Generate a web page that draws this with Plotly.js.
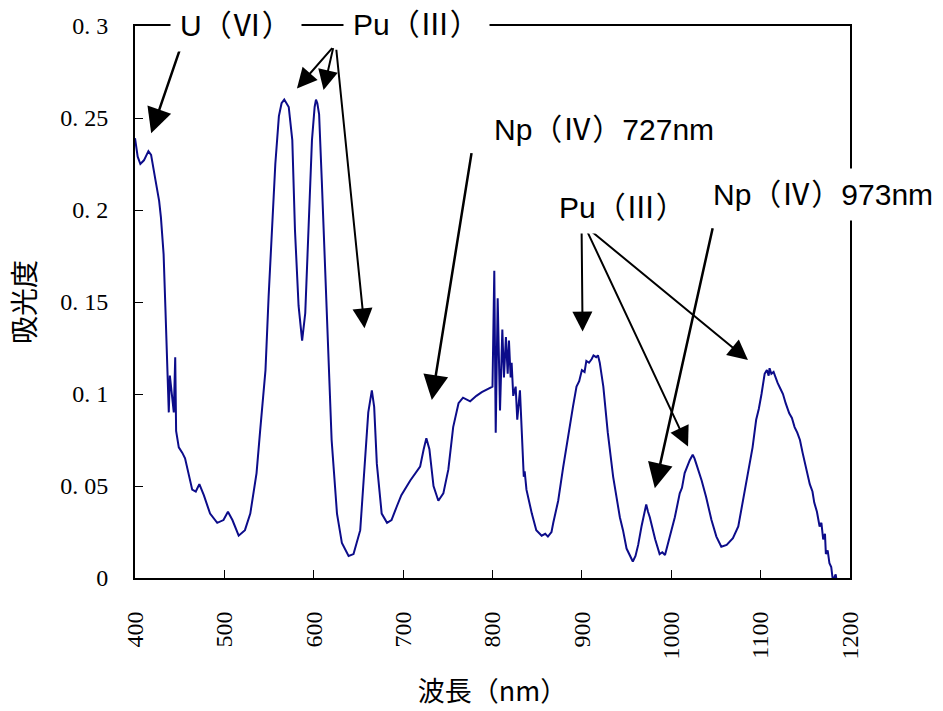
<!DOCTYPE html>
<html>
<head>
<meta charset="utf-8">
<script src="https://cdn.plot.ly/plotly-3.0.1.min.js"></script>
<style>html,body{margin:0;padding:0;background:#fff;}#chart{width:943px;height:711px;}</style>
</head>
<body>
<div id="chart"></div>
<script>
// Wavelength (nm)
const wavelength = [
  400,403,406,410,415,418,423,427,429,432,434,436,437.5,437.8,439,441,443.4,445,446,449,
  453,456,460,464,468,472,477,484,492,499,504,509,516,523,529,536,540,546,549.5,553,
  557,561,564,567,570,572,576,579,583,587,590.5,594,598,601,602.5,604,606,609,613,616.5,
  620,626,631.5,639,644.5,652,657.5,661,665,667.6,670.6,676,682,687,693,698,708,719,723,726,
  729.4,734,739.4,745,750.6,756,762,767,775,782,788,797,800,802,803.6,805.8,808.4,811,812.8,815,
  817,818.4,820.3,821.4,823.2,825.9,827.7,830.7,832.6,835,836,838,844,849,855,859,862,866,868,873.5,
  879,885,888,890,894,897,900,903,905,908,911,913,916,918,920,924,929,935,942.5,946,
  950,953,957,960,963,966.7,970,972,974,976,979,982,987,990,993,998,1004,1009.5,1012,1015,
  1018,1020.7,1024,1026,1028,1034,1039,1045,1050.5,1056,1062,1066,1069,1075,1080,1086,1091,1095,1098,1101,
  1104.5,1107,1109,1110,1112,1114.5,1117,1119,1122,1125,1128,1132,1135,1138,1141,1144,1147,1149,1152,1155,
  1158,1160,1163,1166,1168,1170,1172,1173,1175,1177,1179,1181,1183,1184,1186
];
// Absorbance
const absorbance = [
  0.239,0.229,0.225,0.227,0.232,0.230,0.216,0.205,0.196,0.176,0.147,0.122,0.100,0.090,0.110,0.100,0.090,0.120,0.080,0.071,
  0.068,0.065,0.057,0.048,0.047,0.051,0.045,0.035,0.030,0.0315,0.036,0.0315,0.023,0.026,0.035,0.057,0.080,0.113,0.153,0.189,
  0.225,0.251,0.258,0.260,0.258,0.256,0.238,0.189,0.148,0.129,0.144,0.189,0.238,0.256,0.260,0.258,0.252,0.216,0.162,0.111,
  0.075,0.035,0.019,0.012,0.013,0.026,0.062,0.090,0.102,0.093,0.062,0.035,0.030,0.0315,0.039,0.045,0.053,0.0605,0.070,0.076,
  0.070,0.050,0.042,0.046,0.059,0.082,0.095,0.098,0.096,0.099,0.101,0.103,0.104,0.167,0.079,0.152,0.091,0.135,0.109,0.131,
  0.111,0.129,0.109,0.117,0.099,0.104,0.086,0.102,0.079,0.055,0.058,0.048,0.035,0.026,0.023,0.024,0.0225,0.025,0.030,0.042,
  0.060,0.079,0.087,0.093,0.104,0.107,0.113,0.112,0.118,0.117,0.119,0.121,0.120,0.121,0.117,0.104,0.079,0.055,0.033,0.026,
  0.016,0.013,0.009,0.012,0.018,0.028,0.036,0.040,0.036,0.033,0.027,0.021,0.013,0.014,0.0125,0.0225,0.033,0.046,0.049,0.057,
  0.061,0.064,0.067,0.065,0.062,0.053,0.044,0.0315,0.0225,0.017,0.018,0.020,0.0216,0.028,0.041,0.057,0.071,0.086,0.092,0.100,
  0.111,0.113,0.110,0.114,0.111,0.112,0.108,0.106,0.103,0.100,0.095,0.0895,0.087,0.082,0.079,0.075,0.068,0.064,0.058,0.051,
  0.047,0.041,0.036,0.028,0.030,0.021,0.024,0.013,0.015,0.008,0.006,-0.002,0.001,0.002,-0.005
];
const xTickVals = [400,500,600,700,800,900,1000,1100,1200];
const yTickVals = [0,0.05,0.1,0.15,0.2,0.25,0.3];
const yTickText = ['0','0. 05','0. 1','0. 15','0. 2','0. 25','0. 3'];
const labelTexts = ['U（Ⅵ）','Pu（Ⅲ）','Np（Ⅳ）727nm','Pu（Ⅲ）','Np（Ⅳ）973nm'];
const xTitle = '波長（nm）';
const yTitle = '吸光度';

const sans = 'Liberation Sans, Arial, Noto Sans CJK JP, sans-serif';
const serif = 'Liberation Serif, Times New Roman, serif';

const labelPos = [
  {x:513, y:0.3, ys:1},
  {x:715, y:0.3, ys:2},
  {x:925, y:0.2435, ys:0},
  {x:946, y:0.2011, ys:0},
  {x:1170, y:0.2082, ys:0}
];
const arrows = [
  {ax:451.4, ay:0.2889, x:418.1, y:0.2417, w:2.5},
  {ax:622.1, ay:0.2888, x:581.2, y:0.2661, w:2},
  {ax:622.1, ay:0.2888, x:611.0, y:0.2652, w:2},
  {ax:625.1, ay:0.2879, x:656.8, y:0.1357, w:2},
  {ax:776.8, ay:0.2317, x:732.1, y:0.0967, w:2.5},
  {ax:899.7, ay:0.1891, x:900.8, y:0.1339, w:2},
  {ax:905.3, ay:0.1891, x:1018.8, y:0.0714, w:2},
  {ax:908.9, ay:0.1891, x:1085.8, y:0.1185, w:2},
  {ax:1046.7, ay:0.1909, x:981.6, y:0.0488, w:2.5}
];

const annotations = [];
arrows.forEach(a => annotations.push({
  x:a.x, y:a.y, ax:a.ax, ay:a.ay, xref:'x', yref:'y', axref:'x', ayref:'y',
  text:'', showarrow:true, arrowhead:2, arrowsize:2, arrowwidth:a.w, arrowcolor:'#000', standoff:0
}));
labelTexts.forEach((t,i) => annotations.push({
  x:labelPos[i].x, y:labelPos[i].y, yshift:labelPos[i].ys, xref:'x', yref:'y', text:t, showarrow:false,
  xanchor:'center', yanchor:'middle', bgcolor:'#fff', borderpad:9,
  font:{family:sans, size:30, color:'#000'}
}));

const trace = {
  x: wavelength, y: absorbance, type:'scatter', mode:'lines',
  line:{color:'#0c0c8a', width:2}, hoverinfo:'skip'
};

const layout = {
  width:943, height:711,
  margin:{l:135, r:93, t:26, b:133},
  paper_bgcolor:'#fff', plot_bgcolor:'#fff',
  showlegend:false,
  xaxis:{
    range:[400,1200], tickvals:xTickVals, ticktext:xTickVals.map(String),
    tickangle:-90, ticks:'inside', ticklen:8, tickwidth:1, tickcolor:'#000',
    showline:true, linecolor:'#000', linewidth:2, mirror:true, showgrid:false, zeroline:false,
    tickfont:{family:serif, size:24, color:'#000'}, ticklabelstandoff:22,
    title:{text:xTitle, font:{family:'Noto Sans CJK JP', size:27, color:'#000'}, standoff:24}
  },
  yaxis:{
    range:[0,0.3], tickvals:yTickVals, ticktext:yTickText,
    ticks:'inside', ticklen:8, tickwidth:1, tickcolor:'#000',
    showline:true, linecolor:'#000', linewidth:2, mirror:true, showgrid:false, zeroline:false,
    tickfont:{family:serif, size:24, color:'#000'}, ticklabelstandoff:20,
    title:{text:yTitle, font:{family:'Noto Sans CJK JP', size:28, color:'#000'}, standoff:16}
  },
  annotations: annotations
};

Plotly.newPlot('chart', [trace], layout, {staticPlot:true, displayModeBar:false});
</script>
</body>
</html>
